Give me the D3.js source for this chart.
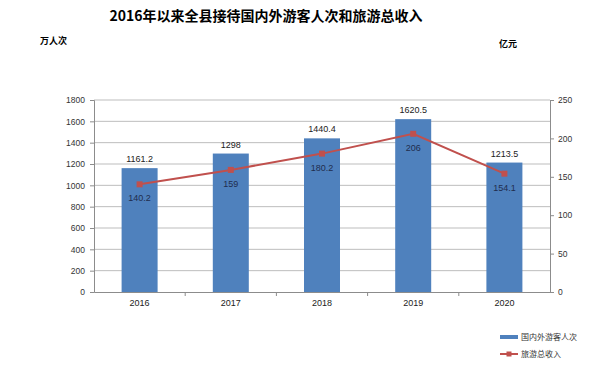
<!DOCTYPE html>
<html lang="zh">
<head>
<meta charset="UTF-8" />
<title>2016年以来全县接待国内外游客人次和旅游总收入</title>
<script src="https://d3js.org/d3.v7.min.js"></script>
<style>
  body { margin: 0; background: #fff; }
  text { font-family: "Liberation Sans", "Noto Sans CJK SC", sans-serif; }
</style>
</head>
<body>
<svg id="chart" width="600" height="380"></svg>
<script>
  const years = ["2016", "2017", "2018", "2019", "2020"];
  const visitors = [1161.2, 1298, 1440.4, 1620.5, 1213.5];
  const income = [140.2, 159, 180.2, 206, 154.1];
  const leftTicks = [0, 200, 400, 600, 800, 1000, 1200, 1400, 1600, 1800];
  const rightTicks = [0, 50, 100, 150, 200, 250];

  const blue = "#4f81bd";
  const red = "#c0504d";
  const cjk = "'Noto Sans CJK SC', sans-serif";

  const svg = d3.select("#chart");
  const pLeft = 94, pRight = 550, pTop = 100, pBottom = 292;

  const x = d3.scaleBand().domain(years).range([pLeft, pRight]);
  const yL = d3.scaleLinear().domain([0, 1800]).range([pBottom, pTop]);
  const yR = d3.scaleLinear().domain([0, 250]).range([pBottom, pTop]);

  // title and units
  svg.append("text")
    .attr("x", 266).attr("y", 21)
    .attr("text-anchor", "middle")
    .style("font-family", cjk)
    .style("font-size", "14px").style("font-weight", "bold")
    .text("2016年以来全县接待国内外游客人次和旅游总收入");
  svg.append("text")
    .attr("x", 40).attr("y", 44)
    .style("font-family", cjk)
    .style("font-size", "9px").style("font-weight", "bold")
    .text("万人次");
  svg.append("text")
    .attr("x", 499).attr("y", 47)
    .style("font-family", cjk)
    .style("font-size", "9px").style("font-weight", "bold")
    .text("亿元");

  // gridlines
  svg.append("g").selectAll("line")
    .data(leftTicks.filter(d => d > 0))
    .join("line")
    .attr("x1", pLeft).attr("x2", pRight)
    .attr("y1", d => yL(d)).attr("y2", d => yL(d))
    .attr("stroke", "#bdbdbd").attr("stroke-width", 1);

  // axes
  const axL = svg.append("g")
    .attr("transform", `translate(${pLeft},0)`)
    .call(d3.axisLeft(yL).tickValues(leftTicks).tickFormat(d3.format("d")).tickSize(4).tickPadding(5));
  const axR = svg.append("g")
    .attr("transform", `translate(${pRight},0)`)
    .call(d3.axisRight(yR).tickValues(rightTicks).tickFormat(d3.format("d")).tickSize(4).tickPadding(4));
  const axB = svg.append("g")
    .attr("transform", `translate(0,${pBottom})`)
    .call(d3.axisBottom(x).tickSize(0).tickPadding(8));
  [axL, axR, axB].forEach(g => {
    g.select(".domain").attr("stroke", "#8c8c8c");
    g.selectAll(".tick line").attr("stroke", "#8c8c8c");
    g.selectAll(".tick text").attr("fill", "#333").style("font-size", "8.5px");
  });
  axB.selectAll(".tick text").attr("fill", "#222").style("font-size", "9px");
  // category boundary ticks
  svg.append("g").selectAll("line")
    .data(years.slice(1))
    .join("line")
    .attr("x1", d => x(d)).attr("x2", d => x(d))
    .attr("y1", pBottom).attr("y2", pBottom + 4)
    .attr("stroke", "#8c8c8c");

  // bars
  const bw = 36;
  const cx = (d, i) => x(years[i]) + x.bandwidth() / 2;
  svg.append("g").selectAll("rect")
    .data(visitors)
    .join("rect")
    .attr("x", (d, i) => cx(d, i) - bw / 2)
    .attr("y", d => yL(d))
    .attr("width", bw)
    .attr("height", d => pBottom - yL(d))
    .attr("fill", blue);
  svg.append("g").selectAll("text")
    .data(visitors)
    .join("text")
    .attr("x", cx)
    .attr("y", d => yL(d) - 6)
    .attr("text-anchor", "middle")
    .style("font-size", "9px").attr("fill", "#222")
    .text(d => d);

  // line
  svg.append("path")
    .datum(income)
    .attr("d", d3.line().x(cx).y(d => yR(d)))
    .attr("fill", "none").attr("stroke", red).attr("stroke-width", 2);
  svg.append("g").selectAll("rect")
    .data(income)
    .join("rect")
    .attr("x", (d, i) => cx(d, i) - 3)
    .attr("y", d => yR(d) - 3)
    .attr("width", 6).attr("height", 6)
    .attr("fill", red);
  svg.append("g").selectAll("text")
    .data(income)
    .join("text")
    .attr("x", cx)
    .attr("y", d => yR(d) + 17)
    .attr("text-anchor", "middle")
    .style("font-size", "9px").attr("fill", "#1f2d4d")
    .text(d => d);

  // legend
  const lg = svg.append("g");
  lg.append("line")
    .attr("x1", 500).attr("x2", 518).attr("y1", 337).attr("y2", 337)
    .attr("stroke", blue).attr("stroke-width", 4);
  lg.append("text")
    .attr("x", 521).attr("y", 340)
    .style("font-family", cjk).style("font-size", "8px").attr("fill", "#333")
    .text("国内外游客人次");
  lg.append("line")
    .attr("x1", 500).attr("x2", 518).attr("y1", 354).attr("y2", 354)
    .attr("stroke", red).attr("stroke-width", 2);
  lg.append("rect")
    .attr("x", 506.5).attr("y", 351.5).attr("width", 5).attr("height", 5)
    .attr("fill", red);
  lg.append("text")
    .attr("x", 521).attr("y", 357)
    .style("font-family", cjk).style("font-size", "8px").attr("fill", "#333")
    .text("旅游总收入");
</script>
</body>
</html>
